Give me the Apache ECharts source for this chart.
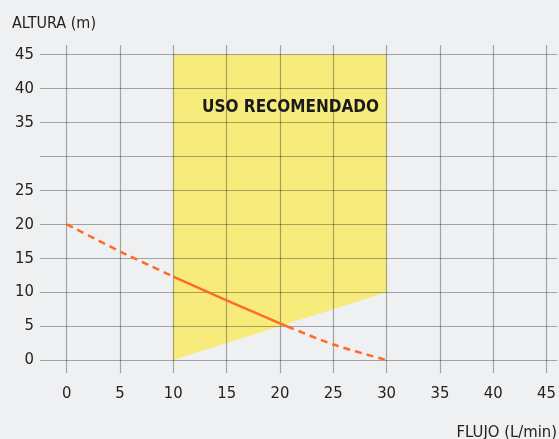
<!DOCTYPE html>
<html>
<head>
<meta charset="utf-8">
<script src="https://cdn.jsdelivr.net/npm/echarts@6/dist/echarts.min.js"></script>
<style>
html,body{margin:0;padding:0;background:#eff0f2;}
#c{width:559px;height:439px;}
</style>
</head>
<body>
<div id="c"></div>
<script>
// ---- data ----
const xTicks = [0, 5, 10, 15, 20, 25, 30, 35, 40, 45];
const yGridValues = [0, 5, 10, 15, 20, 25, 30, 35, 40, 45];
const yTickLabels = [0, 5, 10, 15, 20, 25, 35, 40, 45];
const zoneX = [10, 10, 30, 30];
const zoneY = [0, 45, 45, 10];
const dashLeftX = [0, 5, 10];
const dashLeftY = [20, 16, 12.3];
const solidX = [10, 15, 20, 20.7];
const solidY = [12.3, 8.8, 5.4, 4.95];
const dashRightX = [20.7, 25, 30];
const dashRightY = [4.95, 2.3, 0];
const zoneLabel = 'USO RECOMENDADO';
const zoneLabelPos = [12.7, 37.2];
const yName = 'ALTURA (m)';
const xName = 'FLUJO (L/min)';

const FONT = "'DejaVu Sans Condensed', 'Liberation Sans Narrow', sans-serif";
const pairs = (xs, ys) => xs.map((x, i) => [x, ys[i]]);
const orange = '#ff6a2a';
const gridColor = 'rgba(0,0,0,0.32)';

const chart = echarts.init(document.getElementById('c'), null, {renderer: 'canvas'});
chart.setOption({
  backgroundColor: '#eff0f2',
  animation: false,
  grid: {left: 40, right: 0, top: 45, bottom: 66, containLabel: false},
  xAxis: {
    type: 'value', min: -2.5, max: 46,
    axisLine: {show: false}, axisTick: {show: false}, splitLine: {show: false},
    axisLabel: {
      customValues: xTicks, color: '#222', fontFamily: FONT, fontSize: 16.5, margin: 12
    }
  },
  yAxis: {
    type: 'value', min: -1.9, max: 46.4,
    axisLine: {show: false}, axisTick: {show: false}, splitLine: {show: false},
    axisLabel: {
      customValues: yTickLabels, color: '#222', fontFamily: FONT, fontSize: 16.5, margin: 6
    }
  },
  graphic: [
    {type: 'text', left: 12, top: 16, style: {text: yName, fontFamily: FONT, fontSize: 16, fill: '#222'}},
    {type: 'text', right: 2, top: 424, style: {text: xName, fontFamily: FONT, fontSize: 16.5, fill: '#222'}}
  ],
  series: [
    {
      type: 'custom',
      z: 1,
      silent: true,
      data: [0],
      renderItem: function (params, api) {
        const pts = zoneX.map((x, i) => api.coord([x, zoneY[i]]));
        return {type: 'polygon', shape: {points: pts}, style: {fill: '#f7ec7b'}};
      }
    },
    {
      type: 'line', z: 2, data: [], silent: true,
      markLine: {
        silent: true, symbol: 'none', animation: false,
        label: {show: false},
        lineStyle: {color: gridColor, width: 1.2, type: 'solid'},
        data: yGridValues.map(v => ({yAxis: v})).concat(xTicks.map(v => ({xAxis: v})))
      }
    },
    {
      type: 'line', z: 5, data: pairs(dashLeftX, dashLeftY), smooth: 0.3,
      showSymbol: false, lineStyle: {color: orange, width: 2.5, type: [7, 5]}
    },
    {
      type: 'line', z: 5, data: pairs(solidX, solidY), smooth: 0.3,
      showSymbol: false, lineStyle: {color: orange, width: 2.5, type: 'solid'}
    },
    {
      type: 'line', z: 5, data: pairs(dashRightX, dashRightY), smooth: 0.3,
      showSymbol: false, lineStyle: {color: orange, width: 2.5, type: [7, 5]}
    },
    {
      type: 'custom', z: 6, silent: true,
      data: [zoneLabelPos],
      renderItem: function (params, api) {
        const p = api.coord([api.value(0), api.value(1)]);
        return {
          type: 'text', x: p[0], y: p[1],
          style: {
            text: zoneLabel, fontFamily: FONT, fontWeight: 'bold', fontSize: 17,
            fill: '#1a1a1a', verticalAlign: 'middle', align: 'left'
          }
        };
      }
    }
  ]
});
</script>
</body>
</html>
